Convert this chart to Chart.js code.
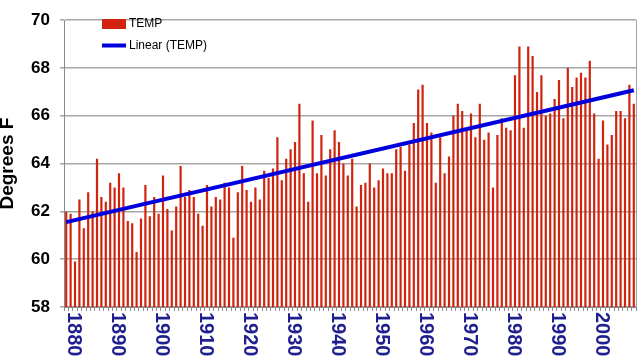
<!DOCTYPE html>
<html>
<head>
<meta charset="utf-8">
<script src="https://cdn.jsdelivr.net/npm/chart.js@4.4.1/dist/chart.umd.min.js"></script>
<style>
html,body{margin:0;padding:0;background:#fff;}
#wrap{width:640px;height:357px;}
</style>
</head>
<body>
<div id="wrap"><canvas id="c" width="640" height="357"></canvas></div>
<script>
// Categories: years 1878..2007
const firstYear = 1878;
const lastYear = 2007;
const years = [];
for (let y = firstYear; y <= lastYear; y++) years.push(String(y));

// Annual mean temperature (degrees F)
const temp = [
  62.0, 61.9, 59.9, 62.5, 61.3, 62.8, 62.0, 64.2, 62.6, 62.4, // 1878-1887
  63.2, 63.0, 63.6, 63.0, 61.6, 61.5, 60.3, 61.7, 63.1, 61.8, // 1888-1897
  62.6, 61.9, 63.5, 62.1, 61.2, 62.2, 63.9, 62.6, 62.9, 62.6, // 1898-1907
  61.9, 61.4, 63.1, 62.2, 62.6, 62.5, 63.2, 63.0, 60.9, 62.8, // 1908-1917
  63.9, 62.9, 62.4, 63.0, 62.5, 63.7, 63.4, 63.8, 65.1, 63.3, // 1918-1927
  64.2, 64.6, 64.9, 66.5, 63.6, 62.4, 65.8, 63.6, 65.2, 63.5, // 1928-1937
  64.6, 65.4, 64.9, 64.0, 63.5, 64.2, 62.2, 63.1, 63.2, 64.0, // 1938-1947
  63.0, 63.3, 63.8, 63.6, 63.6, 64.6, 64.7, 63.7, 64.8, 65.7, // 1948-1957
  67.1, 67.3, 65.7, 65.3, 63.2, 65.1, 63.6, 64.3, 66.0, 66.5, // 1958-1967
  66.2, 65.4, 66.1, 65.1, 66.5, 65.0, 65.3, 63.0, 65.2, 65.9, // 1968-1977
  65.5, 65.4, 67.7, 68.9, 65.5, 68.9, 68.5, 67.0, 67.7, 66.0, // 1978-1987
  66.1, 66.7, 67.5, 65.9, 68.0, 67.2, 67.6, 67.8, 67.6, 68.3, // 1988-1997
  66.1, 64.2, 65.8, 64.8, 65.2, 66.2, 66.2, 65.9, 67.3, 66.5  // 1998-2007
];

// Linear trend endpoints (first and last year)
const trendStart = 61.55;
const trendEnd = 67.07;

// Tick labels shown on the x axis
const xTickLabels = ['1880','1890','1900','1910','1920','1930','1940','1950','1960','1970','1980','1990','2000'];
const yTicks = [58, 60, 62, 64, 66, 68, 70];

const trend = years.map(() => null);
trend[0] = trendStart;
trend[trend.length - 1] = trendEnd;

const FONT = "'Liberation Sans', Arial, Helvetica, sans-serif";

const decor = {
  id: 'decor',
  afterDraw(chart) {
    const ctx = chart.ctx;
    const a = chart.chartArea;
    const xs = chart.scales.x;
    ctx.save();
    // right border of plot
    ctx.strokeStyle = '#a0a0a0';
    ctx.lineWidth = 1;
    ctx.beginPath();
    ctx.moveTo(Math.round(a.right) + 0.5, a.top);
    ctx.lineTo(Math.round(a.right) + 0.5, a.bottom);
    ctx.stroke();

    // x tick labels rotated clockwise
    ctx.fillStyle = '#1f1f8f';
    ctx.font = 'bold 20px ' + FONT;
    ctx.textAlign = 'left';
    ctx.textBaseline = 'middle';
    xTickLabels.forEach(lbl => {
      const idx = years.indexOf(lbl);
      if (idx < 0) return;
      const x = xs.getPixelForValue(idx);
      ctx.save();
      ctx.translate(x - 1, a.bottom + 5);
      ctx.rotate(Math.PI / 2);
      ctx.fillText(lbl, 0, 0);
      ctx.restore();
    });

    // legend
    const ds = chart.data.datasets;
    ctx.fillStyle = ds[0].backgroundColor;
    ctx.fillRect(102, 19, 24, 10);
    ctx.strokeStyle = ds[1].borderColor;
    ctx.lineWidth = 4;
    ctx.beginPath();
    ctx.moveTo(102, 45.5);
    ctx.lineTo(126, 45.5);
    ctx.stroke();
    ctx.fillStyle = '#000';
    ctx.font = '12px ' + FONT;
    ctx.textAlign = 'left';
    ctx.textBaseline = 'middle';
    ctx.fillText(ds[0].label, 129, 24);
    ctx.fillText(ds[1].label, 129, 45.5);
    ctx.restore();
  }
};

new Chart(document.getElementById('c'), {
  data: {
    labels: years,
    datasets: [
      {
        type: 'bar',
        label: 'TEMP',
        data: temp,
        backgroundColor: '#d0240e',
        barPercentage: 0.5,
        categoryPercentage: 1.0,
        order: 2
      },
      {
        type: 'line',
        label: 'Linear (TEMP)',
        data: trend,
        spanGaps: true,
        borderColor: '#0000dd',
        borderWidth: 4,
        pointRadius: 0,
        tension: 0,
        order: 1
      }
    ]
  },
  options: {
    responsive: false,
    animation: false,
    events: [],
    layout: { padding: { top: 10, right: 4, left: 0, bottom: 0 } },
    plugins: { legend: { display: false }, tooltip: { enabled: false } },
    scales: {
      x: {
        type: 'category',
        offset: true,
        grid: { display: true, drawOnChartArea: false, drawTicks: true, tickLength: 4, color: '#8a8a8a', offset: true },
        border: { display: true, color: '#8a8a8a', width: 1 },
        ticks: { display: false },
        afterFit(s) { s.height = 50; }
      },
      y: {
        min: 58,
        max: 70,
        afterBuildTicks(s) { s.ticks = yTicks.map(v => ({ value: v })); },
        ticks: {
          stepSize: 2,
          color: '#000',
          padding: 10,
          font: { family: FONT, size: 17, weight: 'bold' }
        },
        grid: { color: '#a6a6a6', lineWidth: 1.5, tickLength: 4 },
        border: { display: true, color: '#8a8a8a', width: 1 },
        title: {
          display: true,
          text: 'Degrees F',
          color: '#000',
          padding: 0,
          font: { family: FONT, size: 19, weight: 'bold', lineHeight: 0.85 }
        },
        afterFit(s) { s.width = 64; }
      }
    }
  },
  plugins: [decor]
});
</script>
</body>
</html>
